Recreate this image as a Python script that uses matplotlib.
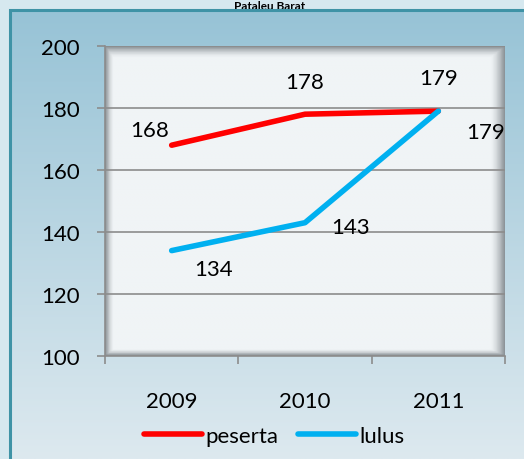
import numpy as np
import matplotlib
matplotlib.use("Agg")
import matplotlib.pyplot as plt
from matplotlib.colors import to_rgb
from matplotlib.patches import Rectangle
from matplotlib.lines import Line2D

years = ["2009", "2010", "2011"]
peserta = [168, 178, 179]
lulus = [134, 143, 179]
yticks = [100, 120, 140, 160, 180, 200]
title = "Pataleu Barat"

plt.rcParams['font.family'] = ['Lato', 'DejaVu Sans']

W, H = 524, 460
fig = plt.figure(figsize=(W / 100, H / 100), dpi=100)
fig.patch.set_facecolor("#d6e8ef")

# chart area gradient background
bg = fig.add_axes([10 / W, 0, 1 - 10 / W, 1 - 11 / H])
bg.set_axis_off()
top = np.array(to_rgb("#97c3d6"))
bot = np.array(to_rgb("#dde9ef"))
t = np.linspace(0, 1, 256)[:, None]
grad = top[None, None, :] * (1 - t[:, :, None]) + bot[None, None, :] * t[:, :, None]
bg.imshow(grad, aspect="auto", extent=[0, 1, 0, 1], origin="upper")
bg.set_xlim(0, 1)
bg.set_ylim(0, 1)
fig.add_artist(Rectangle((10 / W, -0.01), 1.0, 1 - 11 / H + 0.01,
                         transform=fig.transFigure, fill=False,
                         edgecolor="#3f93a6", linewidth=2.2, zorder=5))

fig.text(270 / W, 1 - 6 / H, title, ha="center", va="center",
         fontsize=8.5, fontweight="bold", color="black")

ax = fig.add_axes([105 / W, 103 / H, 400 / W, 310 / H])
ax.set_facecolor("#f0f4f6")
# soft shadow frame inside plot area
ny, nx = 200, 300
yy = np.linspace(0, 1, ny)[:, None]
xx = np.linspace(0, 1, nx)[None, :]
d = np.minimum.reduce([xx / 0.02 * np.ones_like(yy), (1 - xx) / 0.035 * np.ones_like(yy),
                       yy / 0.035 * np.ones_like(xx), (1 - yy) / 0.02 * np.ones_like(xx)])
shade = np.clip(1 - d, 0, 1) ** 1.5
base = np.array(to_rgb("#f0f4f6"))
dark = np.array(to_rgb("#8d9499"))
img = base[None, None, :] * (1 - shade[:, :, None]) + dark[None, None, :] * shade[:, :, None]
x = np.arange(len(years))
ax.imshow(img, aspect="auto", extent=[-0.5, 2.5, 100, 200], origin="upper", zorder=0)

fs = 16
ax.set_xlim(-0.5, 2.5)
ax.set_ylim(100, 200)
ax.set_yticks(yticks)
ax.set_yticklabels([str(v) for v in yticks], fontsize=fs)
ax.set_xticks(x)
ax.set_xticklabels(years, fontsize=fs)
ax.set_xticks([-0.5, 0.5, 1.5, 2.5], minor=True)
ax.tick_params(axis="x", which="major", length=0, pad=25)
ax.tick_params(axis="x", which="minor", length=6, color="#8c8c8c", width=1.2)
ax.tick_params(axis="y", length=6, color="#8c8c8c", width=1.2, pad=12)
ax.grid(axis="y", color="#8c8c8c", linewidth=1.2, zorder=1)
for s in ["top", "right"]:
    ax.spines[s].set_visible(False)
ax.spines["left"].set_color("#8c8c8c")
ax.spines["bottom"].set_color("#8c8c8c")
ax.spines["left"].set_linewidth(1.2)
ax.spines["bottom"].set_linewidth(1.2)

ax.plot(x, peserta, color="#ff0000", linewidth=4.0, solid_capstyle="round", zorder=3)
ax.plot(x, lulus, color="#00b0f0", linewidth=4.0, solid_capstyle="round", zorder=3)

ax.annotate(str(peserta[0]), (x[0], peserta[0]), xytext=(-16, 11), textcoords="offset points",
            ha="center", va="center", fontsize=fs)
ax.annotate(str(peserta[1]), (x[1], peserta[1]), xytext=(0, 23), textcoords="offset points",
            ha="center", va="center", fontsize=fs)
ax.annotate(str(peserta[2]), (x[2], peserta[2]), xytext=(0, 24), textcoords="offset points",
            ha="center", va="center", fontsize=fs)
ax.annotate(str(lulus[0]), (x[0], lulus[0]), xytext=(30, -13), textcoords="offset points",
            ha="center", va="center", fontsize=fs)
ax.annotate(str(lulus[1]), (x[1], lulus[1]), xytext=(33, -3), textcoords="offset points",
            ha="center", va="center", fontsize=fs)
ax.annotate(str(lulus[2]), (x[2], lulus[2]), xytext=(34, -15), textcoords="offset points",
            ha="center", va="center", fontsize=fs)

handles = [Line2D([], [], color="#ff0000", linewidth=4.0, solid_capstyle="round"),
           Line2D([], [], color="#00b0f0", linewidth=4.0, solid_capstyle="round")]
fig.legend(handles, ["peserta", "lulus"], loc="center", bbox_to_anchor=(274 / W, 1 - 437 / H),
           ncol=2, frameon=False, fontsize=fs, handlelength=2.6, handletextpad=0.15,
           columnspacing=0.9)

fig.savefig("out.png", dpi=100)
